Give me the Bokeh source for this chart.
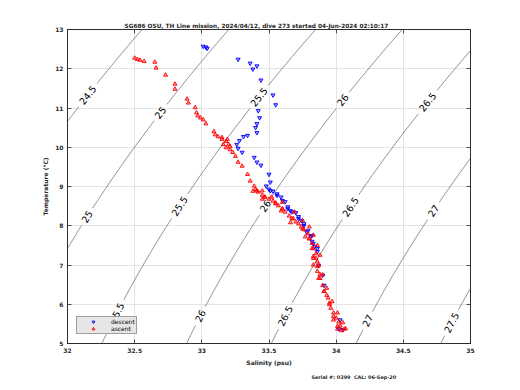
import numpy as np
from bokeh.plotting import figure
from bokeh.models import Range1d, LinearAxis, FixedTicker, Legend, LegendItem, Grid, Title
from bokeh.core.properties import value
from bokeh.embed import file_html
from bokeh.resources import INLINE

# ---------------- data ----------------
title_text = "SG686 OSU, TH Line mission, 2024/04/12, dive 273 started 04-Jun-2024 02:10:17"
xlabel_text = "Salinity (psu)"
ylabel_text = "Temperature (\u00b0C)"
serial_text = "Serial #: 0399\u00a0\u00a0CAL: 06-Sep-20"

x_ticks = [32, 32.5, 33, 33.5, 34, 34.5, 35]
x_tick_labels = ["32", "32.5", "33", "33.5", "34", "34.5", "35"]
y_ticks = [5, 6, 7, 8, 9, 10, 11, 12, 13]
y_tick_labels = ["5", "6", "7", "8", "9", "10", "11", "12", "13"]

# descent (blue)
descent_S = [33.01, 33.03, 33.04, 33.27, 33.36, 33.38, 33.41, 33.44, 33.53, 33.55,
             33.42, 33.43, 33.41, 33.40, 33.41, 33.34, 33.31, 33.28, 33.26, 33.27,
             33.30, 33.39, 33.41, 33.44, 33.50, 33.51, 33.48, 33.50, 33.53, 33.56,
             33.59, 33.62, 33.64, 33.66, 33.70, 33.72, 33.74, 33.76, 33.79, 33.81,
             33.82, 33.84, 33.86, 33.87, 33.90, 33.91, 34.03, 34.05, 34.02,
             33.51, 33.56, 33.60, 33.64, 33.67, 33.72, 33.76, 33.78, 33.82, 33.83,
             33.86]
descent_T = [12.57, 12.55, 12.52, 12.24, 12.14, 11.99, 12.07, 11.71, 11.33, 11.08,
             10.93, 10.75, 10.60, 10.50, 10.37, 10.30, 10.27, 10.17, 10.07, 9.97,
             9.87, 9.74, 9.62, 9.54, 9.31, 9.11, 9.01, 8.93, 8.88, 8.81,
             8.73, 8.61, 8.48, 8.38, 8.33, 8.23, 8.13, 8.00, 7.87, 7.72,
             7.60, 7.47, 7.34, 6.99, 6.74, 6.48, 5.60, 5.35, 5.37,
             8.89, 8.77, 8.64, 8.43, 8.35, 8.18, 8.05, 7.84, 7.75, 7.55,
             7.42]

# ascent (red)
ascent_S = [32.50, 32.52, 32.54, 32.57, 32.65, 32.66, 32.73, 32.80, 32.80, 32.89,
            32.90, 32.95, 32.96, 32.97, 32.99, 33.01, 33.03, 33.09, 33.10, 33.12,
            33.15, 33.15, 33.18, 33.19, 33.20, 33.16, 33.18, 33.21, 33.21, 33.23,
            33.25, 33.27, 33.30, 33.34, 33.36, 33.39, 33.40, 33.42, 33.45, 33.47,
            33.50, 33.53, 33.55, 33.57, 33.60, 33.62, 33.65, 33.68, 33.70, 33.72,
            33.74, 33.76, 33.79, 33.80, 33.82, 33.83, 33.85, 33.85, 33.87, 33.86,
            33.88, 33.90, 33.91, 33.94, 33.95, 33.96, 33.98, 34.00, 34.02, 34.03,
            34.06, 34.01, 33.38, 33.45, 33.59, 33.66, 33.77, 33.83, 33.88, 33.93,
            33.98, 34.04,
            33.41, 33.47, 33.55, 33.60, 33.67, 33.75, 33.80, 33.82, 33.83, 33.86,
            33.45, 33.52, 33.60, 33.69, 33.75, 33.80, 33.83, 33.86, 33.88, 33.83,
            33.87, 33.91, 33.95, 33.98, 34.01, 33.86, 33.90, 33.93, 33.97, 34.01,
            34.05, 34.07]
ascent_T = [12.27, 12.24, 12.22, 12.19, 12.17, 12.02, 11.84, 11.61, 11.48, 11.23,
            11.13, 11.01, 10.88, 10.80, 10.75, 10.70, 10.60, 10.40, 10.32, 10.27,
            10.25, 10.20, 10.15, 10.20, 10.07, 10.07, 9.99, 10.02, 9.94, 9.87,
            9.77, 9.62, 9.52, 9.31, 9.14, 9.01, 8.93, 8.86, 8.78, 8.73,
            8.68, 8.63, 8.58, 8.51, 8.43, 8.35, 8.25, 8.18, 8.10, 8.05,
            7.97, 7.90, 7.80, 7.67, 7.55, 7.42, 7.29, 7.17, 6.99, 6.84,
            6.66, 6.48, 6.33, 6.16, 6.03, 5.90, 5.78, 5.65, 5.55, 5.45,
            5.37, 5.37, 8.88, 8.68, 8.38, 8.08, 7.72, 7.22, 6.76, 6.23,
            5.60, 5.33,
            8.89, 8.73, 8.56, 8.43, 8.18, 7.92, 7.67, 7.42, 7.17, 6.96,
            8.89, 8.73, 8.60, 8.35, 8.13, 7.97, 7.76, 7.50, 7.25, 7.00,
            6.66, 6.33, 5.99, 5.69, 5.44, 7.08, 6.75, 6.41, 6.07, 5.78,
            5.53, 5.38]

# isopycnal levels and the temperatures where each is labelled
levels = [24.5, 25.0, 25.5, 26.0, 26.5, 27.0, 27.5]
level_texts = ["24.5", "25", "25.5", "26", "26.5", "27", "27.5"]
label_T = [[11.33], [10.88, 8.23], [11.28, 8.50, 5.78], [11.20, 8.50, 5.70],
           [11.15, 8.48, 5.70], [8.38, 5.58], [5.53]]


def sigma0(S, T):
    rho_w = (999.842594 + 6.793952e-2 * T - 9.095290e-3 * T**2 + 1.001685e-4 * T**3
             - 1.120083e-6 * T**4 + 6.536332e-9 * T**5)
    A = 8.24493e-1 - 4.0899e-3 * T + 7.6438e-5 * T**2 - 8.2467e-7 * T**3 + 5.3875e-9 * T**4
    B = -5.72466e-3 + 1.0227e-4 * T - 1.6546e-6 * T**2
    C = 4.8314e-4
    return rho_w + A * S + B * S**1.5 + C * S**2 - 1000.0


# ---------------- figure ----------------
W, H = 512, 382
ML, MR, MT, MB = 67, 42, 29, 36
FW, FH = W - ML - MR, H - MT - MB
XR, YR = (32, 35), (5, 13)
pxS = FW / (XR[1] - XR[0])
pxT = FH / (YR[1] - YR[0])

p = figure(width=W, height=H, x_range=Range1d(*XR), y_range=Range1d(*YR),
           output_backend="svg", toolbar_location=None,
           min_border_left=ML, min_border_right=MR, min_border_top=MT, min_border_bottom=MB,
           x_axis_location=None, y_axis_location=None)
p.background_fill_color = "white"
p.border_fill_color = "white"
p.outline_line_color = "#262626"
p.outline_line_width = 0.8

axis_col = "#262626"
for loc in ["below", "left", "above", "right"]:
    ax = LinearAxis()
    ax.ticker = FixedTicker(ticks=x_ticks if loc in ("below", "above") else y_ticks)
    ax.major_tick_in = 4
    ax.major_tick_out = 0
    ax.minor_tick_in = 0
    ax.minor_tick_out = 0
    ax.axis_line_color = axis_col
    ax.axis_line_width = 0.8
    ax.major_tick_line_color = axis_col
    ax.major_tick_line_width = 0.8
    if loc in ("below", "left"):
        labs = x_tick_labels if loc == "below" else y_tick_labels
        tks = x_ticks if loc == "below" else y_ticks
        ax.major_label_overrides = {t: l for t, l in zip(tks, labs)}
        ax.major_label_text_font = "DejaVu Sans"
        ax.major_label_text_font_size = "6px"
        ax.major_label_text_font_style = "bold"
        ax.major_label_text_color = "#262626"
        ax.major_label_standoff = 4
        ax.axis_label = xlabel_text if loc == "below" else ylabel_text
        ax.axis_label_text_font = "DejaVu Sans"
        ax.axis_label_text_font_size = "6px"
        ax.axis_label_text_font_style = "bold"
        ax.axis_label_text_color = "#262626"
        ax.axis_label_standoff = 3
    else:
        ax.major_label_text_font_size = "0px"
        ax.major_label_standoff = 0
    p.add_layout(ax, loc)

p.add_layout(Grid(dimension=0, ticker=FixedTicker(ticks=x_ticks), grid_line_color="#e3e3e3", grid_line_width=0.8))
p.add_layout(Grid(dimension=1, ticker=FixedTicker(ticks=y_ticks), grid_line_color="#e3e3e3", grid_line_width=0.8))

# titles
p.title.text = title_text
p.title.align = "left"
p.title.offset = 57
p.title.text_font = "DejaVu Sans"
p.title.text_font_size = "5.8px"
p.title.text_font_style = "bold"
p.title.text_color = "#262626"
p.title.standoff = 2
p.add_layout(Title(text=serial_text, align="left", offset=244, standoff=6,
                   text_font="DejaVu Sans", text_font_size="4.9px", text_font_style="bold",
                   text_color="#262626"), "below")

# ---------------- isopycnals ----------------
S_grid = np.linspace(30.0, 37.0, 2801)
T_line = np.linspace(4.5, 13.5, 721)
font_px = 9.5
lab_x, lab_y, lab_a, lab_t = [], [], [], []
for lev, txt, tl in zip(levels, level_texts, label_T):
    S_line = np.array([np.interp(lev, sigma0(S_grid, t), S_grid) for t in T_line])
    xs = S_line.copy()
    ys = T_line.copy()
    dSdT = np.gradient(S_line, T_line)
    mask = np.zeros_like(xs, dtype=bool)
    for t in tl:
        s = np.interp(t, T_line, S_line)
        g = np.interp(t, T_line, dSdT)
        ang = np.arctan2(pxT, g * pxS)
        half = (len(txt) - 0.5 * txt.count(".")) * font_px * 0.32 + 4
        d = np.hypot((S_line - s) * pxS, (T_line - t) * pxT)
        mask |= d < half
        lab_x.append(s)
        lab_y.append(t)
        lab_a.append(ang)
        lab_t.append(txt)
    xs[mask] = np.nan
    ys[mask] = np.nan
    p.line(xs, ys, line_color="#3a3a3a", line_width=0.6)

p.text(x=lab_x, y=lab_y, text=lab_t, angle=lab_a, text_align="center", text_baseline="middle",
       text_font=value("DejaVu Sans"), text_font_size=f"{font_px}px", text_color="black")

# ---------------- data points ----------------
r_desc = p.scatter(descent_S, descent_T, marker="inverted_triangle", size=4,
                   line_color="#0000ff", fill_color="#0000ff", fill_alpha=0.35, line_width=0.9)
r_asc = p.scatter(ascent_S, ascent_T, marker="triangle", size=4,
                  line_color="#ff0000", fill_color="#ff0000", fill_alpha=0.35, line_width=0.9)

legend = Legend(items=[LegendItem(label="descent", renderers=[r_desc]),
                       LegendItem(label="ascent", renderers=[r_asc])],
                location=(9, 9), orientation="vertical")
legend.background_fill_color = "#e6e6e6"
legend.background_fill_alpha = 1.0
legend.border_line_color = "#555555"
legend.border_line_width = 0.8
legend.label_text_font = "DejaVu Sans"
legend.label_text_font_size = "6px"
legend.label_text_color = "black"
legend.padding = 1
legend.margin = 0
legend.spacing = 0
legend.glyph_width = 30
legend.glyph_height = 7
legend.label_height = 7
legend.label_standoff = 3
p.add_layout(legend, "center")

open("out.html", "w").write(file_html(p, INLINE))
